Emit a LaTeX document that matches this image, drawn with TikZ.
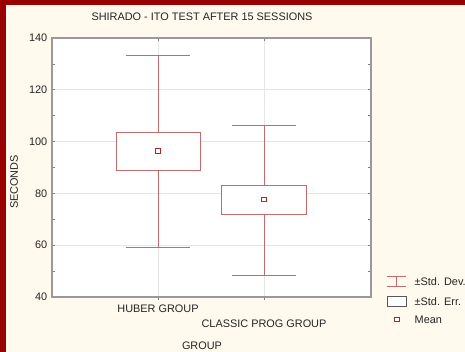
\documentclass[tikz,border=0pt]{standalone}
\usepackage{fontspec}
\setmainfont{Liberation Sans}
\begin{document}
\begin{tikzpicture}[x=1pt,y=-1pt,
  lbl/.style={font=\fontsize{10.9}{12}\selectfont, text=black!85, inner sep=0pt},
  tick/.style={draw=black!50, line width=0.6pt},
  gridline/.style={draw=black!10, line width=0.7pt},
  frame/.style={draw=black!40, line width=1.3pt},
  whisker/.style={draw=boxred, line width=0.9pt},
  sebox/.style={draw=boxred, line width=0.9pt, fill=white},
  meanmark/.style={draw=meanred, line width=1pt, fill=white, minimum size=4.6pt, inner sep=0pt, rectangle}]
\definecolor{bgcream}{HTML}{FFF9EE}
\definecolor{edgered}{HTML}{990000}
\definecolor{boxred}{HTML}{C46A6A}
\definecolor{meanred}{HTML}{A82828}
% value -> vertical pixel position on the plot
\def\ypx#1{38+(140-#1)*2.59}

\useasboundingbox (0,0) rectangle (465,352);
\fill[bgcream] (0,0) rectangle (465,352);
\fill[edgered] (0,0) rectangle (465,4.7);
\fill[edgered] (0,0) rectangle (6,352);

% plot area
\coordinate (pa-nw) at (52,38);
\coordinate (pa-se) at (371,297);
\fill[white] (pa-nw) rectangle (pa-se);

% grid
\foreach \v in {60,80,100,120}
  \draw[gridline] (52,{\ypx{\v}}) -- (371,{\ypx{\v}});
\foreach \x in {158,264}
  \draw[gridline] (\x,38) -- (\x,297);

% axis ticks
\foreach \v in {50,60,...,130}{
  \draw[tick] (52,{\ypx{\v}}) -- (55,{\ypx{\v}});
  \draw[tick] (371,{\ypx{\v}}) -- (368,{\ypx{\v}});
}
\foreach \x in {158,264}{
  \draw[tick] (\x,38) -- (\x,41);
  \draw[tick] (\x,297) -- (\x,300);
}
\draw[frame] (pa-nw) rectangle (pa-se);

% y tick labels
\foreach \v in {40,60,...,140}
  \node[lbl, anchor=east] (yl\v) at (47.5,{\ypx{\v}}) {\v};

% HUBER GROUP
\coordinate (hu-hi) at (158,{\ypx{133.2}});
\coordinate (hu-lo) at (158,{\ypx{59.3}});
\coordinate (hu-bt) at (158,{\ypx{103.4}});
\coordinate (hu-bb) at (158,{\ypx{88.8}});
\draw[whisker] (hu-hi) -- (hu-bt) (hu-bb) -- (hu-lo);
\draw[whisker] ([xshift=-32pt]hu-hi) -- ([xshift=32pt]hu-hi);
\draw[whisker] ([xshift=-32pt]hu-lo) -- ([xshift=32pt]hu-lo);
\draw[sebox] ([xshift=-42pt]hu-bt) rectangle ([xshift=42pt]hu-bb);
\node[meanmark] (hu-mean) at (158,{\ypx{96.4}}) {};

% CLASSIC PROG GROUP
\coordinate (cl-hi) at (264,{\ypx{106.1}});
\coordinate (cl-lo) at (264,{\ypx{48.4}});
\coordinate (cl-bt) at (264,{\ypx{83.0}});
\coordinate (cl-bb) at (264,{\ypx{71.9}});
\draw[whisker] (cl-hi) -- (cl-bt) (cl-bb) -- (cl-lo);
\draw[whisker] ([xshift=-32pt]cl-hi) -- ([xshift=32pt]cl-hi);
\draw[whisker] ([xshift=-32pt]cl-lo) -- ([xshift=32pt]cl-lo);
\draw[sebox] ([xshift=-42.5pt]cl-bt) rectangle ([xshift=42.5pt]cl-bb);
\node[meanmark] (cl-mean) at (264,{\ypx{77.6}}) {};

% titles and axis labels
\node[lbl] (title) at (202,16.5) {SHIRADO - ITO TEST AFTER 15 SESSIONS};
\node[lbl, rotate=90] (ylab) at (14,182) {SECONDS};
\node[lbl] (xl1) at (158,309) {HUBER GROUP};
\node[lbl] (xl2) at (264,323.5) {CLASSIC PROG GROUP};
\node[lbl] (xlab) at (202,346) {GROUP};

% legend
\coordinate (lg-sd) at (396.5,281);
\draw[whisker] ([xshift=-9.5pt,yshift=-5pt]lg-sd) -- ([xshift=9.5pt,yshift=-5pt]lg-sd);
\draw[whisker] ([xshift=-9.5pt,yshift=5pt]lg-sd) -- ([xshift=9.5pt,yshift=5pt]lg-sd);
\draw[whisker] ([yshift=-5pt]lg-sd) -- ([yshift=5pt]lg-sd);
\node[draw=black!65, line width=0.7pt, fill=white, minimum width=19.5pt, minimum height=9.5pt, inner sep=0pt] (lg-se) at (396.8,301.5) {};
\node[meanmark] (lg-mean) at (396.7,319.5) {};
\node[lbl, anchor=west] (lt-sd) at (414.5,281.5) {±Std. Dev.};
\node[lbl, anchor=west] (lt-se) at (414.5,301.5) {±Std. Err.};
\node[lbl, anchor=west] (lt-mean) at (414.5,320) {Mean};
\end{tikzpicture}
\end{document}
